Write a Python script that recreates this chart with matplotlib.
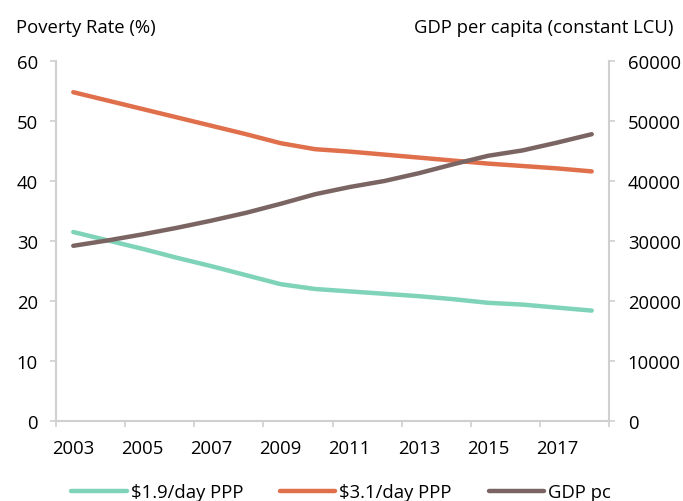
import matplotlib
matplotlib.use("Agg")
import matplotlib.pyplot as plt
from matplotlib.ticker import FixedLocator

years = list(range(2003, 2019))
pov_190 = [31.5, 30.1, 28.7, 27.2, 25.8, 24.3, 22.8, 22.0, 21.6, 21.2, 20.8, 20.3, 19.7, 19.4, 18.9, 18.4]
pov_310 = [54.8, 53.4, 52.0, 50.6, 49.2, 47.8, 46.3, 45.3, 44.9, 44.4, 43.9, 43.4, 42.9, 42.5, 42.1, 41.6]
gdp_pc = [29200, 30100, 31100, 32200, 33400, 34700, 36200, 37800, 39000, 40000, 41300, 42800, 44200, 45100, 46400, 47800]
x_labels = [2003, 2005, 2007, 2009, 2011, 2013, 2015, 2017]
left_ticks = [0, 10, 20, 30, 40, 50, 60]
right_ticks = [0, 10000, 20000, 30000, 40000, 50000, 60000]

plt.rcParams['font.family'] = ['Open Sans', 'DejaVu Sans']
FS = 13.3
GRAY = '#D0D0D0'
C_GREEN = '#7FD3B8'
C_RED = '#E0704B'
C_BROWN = '#7B6563'

fig = plt.figure(figsize=(6.83, 5.02), dpi=100)
ax = fig.add_axes([56/683, 1-422/502, (609-56)/683, (422-62)/502])
ax2 = ax.twinx()

l1, = ax.plot(years, pov_190, color=C_GREEN, lw=3.2, solid_capstyle='round', solid_joinstyle='round')
l2, = ax.plot(years, pov_310, color=C_RED, lw=3.2, solid_capstyle='round', solid_joinstyle='round')
l3, = ax2.plot(years, gdp_pc, color=C_BROWN, lw=3.2, solid_capstyle='round', solid_joinstyle='round')

ax.set_xlim(2002.5, 2018.5)
ax.set_ylim(0, 60)
ax2.set_ylim(0, 60000)

ax.set_xticks(x_labels)
ax.set_xticklabels([str(v) for v in x_labels], fontsize=FS)
ax.xaxis.set_minor_locator(FixedLocator([2002.5 + 2*i for i in range(9)]))
ax.tick_params(axis='x', which='major', length=0, pad=13)
ax.tick_params(axis='x', which='minor', length=4.5, width=1.2, color=GRAY, direction='out')

ax.set_yticks(left_ticks)
ax.set_yticklabels([str(v) for v in left_ticks], fontsize=FS)
ax.tick_params(axis='y', length=4.5, width=1.2, color=GRAY, direction='out', pad=8.5)
ax2.set_yticks(right_ticks)
ax2.set_yticklabels([str(v) for v in right_ticks], fontsize=FS)
ax2.tick_params(axis='y', length=4.5, width=1.2, color=GRAY, direction='out', pad=9)

for a in (ax, ax2):
    a.spines['top'].set_visible(False)
    for s in ('left', 'right', 'bottom'):
        a.spines[s].set_color(GRAY)
        a.spines[s].set_linewidth(1.5)
ax.spines['right'].set_visible(False)
ax2.spines['left'].set_visible(False)
ax2.spines['bottom'].set_visible(False)

fig.text(16/683, 1-28/502, 'Poverty Rate (%)', fontsize=FS, ha='left', va='center')
fig.text(673/683, 1-28/502, 'GDP per capita (constant LCU)', fontsize=FS, ha='right', va='center')

fig.legend([l1, l2, l3], [r'\$1.9/day PPP', r'\$3.1/day PPP', 'GDP pc'],
           loc='center', bbox_to_anchor=(341/683, 1-493/502), ncol=3, frameon=False,
           fontsize=FS, handlelength=3.0, handletextpad=0.2, columnspacing=2.0)

fig.savefig('out.png', dpi=100, facecolor='white')
